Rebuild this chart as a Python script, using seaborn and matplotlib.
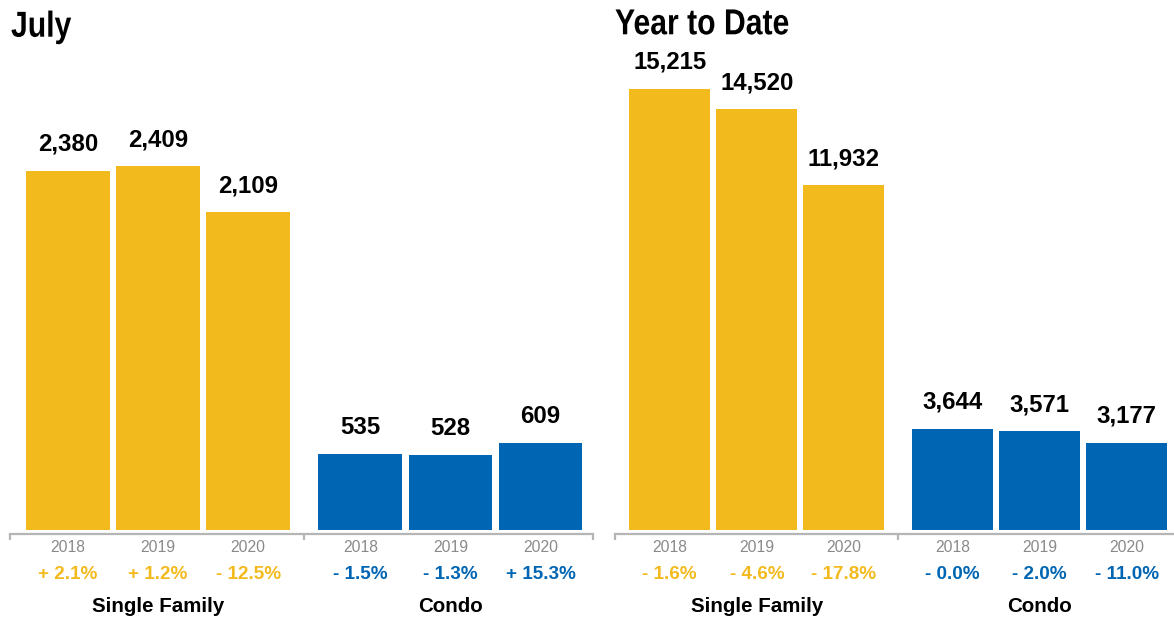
import matplotlib
matplotlib.use('Agg')
import matplotlib.pyplot as plt
import matplotlib.patheffects as pe
from matplotlib.transforms import Affine2D
import seaborn as sns
import numpy as np
import pandas as pd
from matplotlib import font_manager

# ---------------- data ----------------
years = ['2018', '2019', '2020']
groups = ['Single Family', 'Condo']
titles = ['July', 'Year to Date']

july_sf = [2380, 2409, 2109]
july_condo = [535, 528, 609]
ytd_sf = [15215, 14520, 11932]
ytd_condo = [3644, 3571, 3177]

july_sf_pct = ['+ 2.1%', '+ 1.2%', '- 12.5%']
july_condo_pct = ['- 1.5%', '- 1.3%', '+ 15.3%']
ytd_sf_pct = ['- 1.6%', '- 4.6%', '- 17.8%']
ytd_condo_pct = ['- 0.0%', '- 2.0%', '- 11.0%']

# ---------------- style ----------------
YELLOW = '#F3BA1E'
BLUE = '#0066B3'
AXIS_GRAY = '#B5B5B5'
YEAR_GRAY = '#8A8A8A'

sns.set_theme(style='white')
names = {f.name for f in font_manager.fontManager.ttflist}
BASE_FONT = 'Liberation Sans' if 'Liberation Sans' in names else 'DejaVu Sans'
plt.rcParams['font.family'] = [BASE_FONT, 'DejaVu Sans']


class Condense(pe.AbstractPathEffect):
    """Draw text glyphs horizontally condensed around their baseline origin."""
    def __init__(self, sx=1.0, sy=1.0):
        super().__init__()
        self.sx, self.sy = sx, sy

    def draw_path(self, renderer, gc, tpath, affine, rgbFace=None):
        affine = Affine2D().scale(self.sx, self.sy) + affine
        renderer.draw_path(gc, tpath, affine, rgbFace)


W, H = 1174, 620
fig = plt.figure(figsize=(W / 100, H / 100), dpi=100)

GROUP_GAP = 0.245
BAR_W = 0.93
pos_sf = np.arange(len(years), dtype=float)
pos_condo = pos_sf + len(years) + GROUP_GAP
mid = (pos_sf[-1] + pos_condo[0]) / 2

panels = [
    dict(left=10, width=583, xlim=(-0.644, 5.827), ylim=(38, 3490),
         tx=11, tb=36.7, title=titles[0],
         sf=july_sf, condo=july_condo, sfp=july_sf_pct, cp=july_condo_pct),
    dict(left=614.6, width=567.1, xlim=(-0.633, 5.878), ylim=(198, 18231),
         tx=615, tb=34.3, title=titles[1],
         sf=ytd_sf, condo=ytd_condo, sfp=ytd_sf_pct, cp=ytd_condo_pct),
]
AX_BOTTOM = 89.7
AX_HEIGHT = 530.3

for p in panels:
    ax = fig.add_axes([p['left'] / W, AX_BOTTOM / H, p['width'] / W, AX_HEIGHT / H])
    sns.barplot(x=pos_sf, y=p['sf'], native_scale=True, width=BAR_W, color=YELLOW,
                saturation=1, linewidth=0, errorbar=None, ax=ax)
    sns.barplot(x=pos_condo, y=p['condo'], native_scale=True, width=BAR_W, color=BLUE,
                saturation=1, linewidth=0, errorbar=None, ax=ax)
    ax.set_xlim(*p['xlim'])
    ax.set_ylim(*p['ylim'])
    for s in ['top', 'left', 'right']:
        ax.spines[s].set_visible(False)
    ax.spines['bottom'].set_position(('outward', 2.6))
    ax.spines['bottom'].set_color(AXIS_GRAY)
    ax.spines['bottom'].set_linewidth(1.6)
    ax.set_yticks([])
    ax.set_xticks([])
    ax.set_xticks([p['xlim'][0], mid, p['xlim'][1]], minor=True)
    ax.tick_params(axis='x', which='minor', direction='out', length=4.5, width=1.6,
                   color=AXIS_GRAY, labelbottom=False, bottom=True)
    ax.set_xlabel('')
    ax.set_ylabel('')

    for positions, vals, pcts, col, gname in [
        (pos_sf, p['sf'], p['sfp'], YELLOW, groups[0]),
        (pos_condo, p['condo'], p['cp'], BLUE, groups[1]),
    ]:
        for x, v, yr, pc in zip(positions, vals, years, pcts):
            ax.annotate(f'{v:,}', xy=(x, v), xytext=(0, 14.4), textcoords='offset points',
                        ha='center', va='baseline', fontsize=17.3, fontweight='bold',
                        color='black', annotation_clip=False)
            ax.annotate(yr, xy=(x, 0), xycoords=('data', 'axes fraction'),
                        xytext=(0, -15.4), textcoords='offset points',
                        ha='center', va='baseline', fontsize=11.3, color=YEAR_GRAY,
                        annotation_clip=False)
            ax.annotate(pc, xy=(x, 0), xycoords=('data', 'axes fraction'),
                        xytext=(0, -35.1), textcoords='offset points',
                        ha='center', va='baseline', fontsize=13.6, fontweight='bold',
                        color=col, annotation_clip=False)
        ax.annotate(gname, xy=(np.mean(positions), 0), xycoords=('data', 'axes fraction'),
                    xytext=(0, -59), textcoords='offset points',
                    ha='center', va='baseline', fontsize=14.8, fontweight='bold',
                    color='black', annotation_clip=False)

    t = fig.text(p['tx'] / W, 1 - p['tb'] / H, p['title'], ha='left', va='baseline',
                 fontsize=26, fontweight='bold', color='black')
    t.set_path_effects([Condense(0.835, 1.0)])

fig.savefig('out.png', dpi=100)
